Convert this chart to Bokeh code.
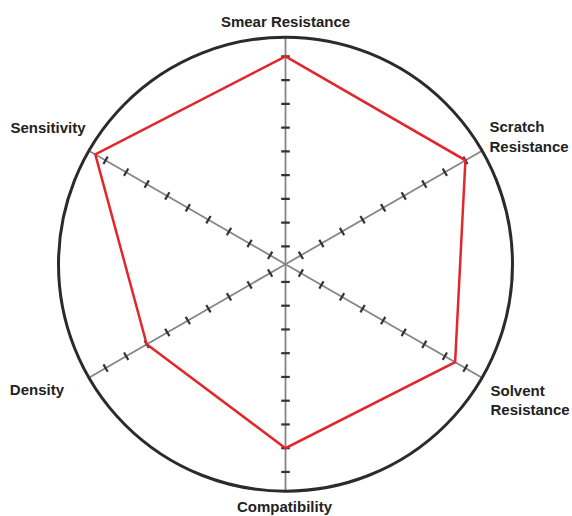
import math
from bokeh.plotting import figure
from bokeh.models import Range1d, ColumnDataSource
from bokeh.core.properties import value
from bokeh.embed import file_html
from bokeh.resources import INLINE

# ---- data -------------------------------------------------------------
categories = ["Smear Resistance", "Scratch Resistance", "Solvent Resistance",
              "Compatibility", "Density", "Sensitivity"]
scores = [9, 9, 8.5, 8, 7, 9.5]
tick_values = [1, 2, 3, 4, 5, 6, 7, 8, 9]

# ---- geometry (styling / layout) ------------------------------------
angles_deg = [90, 30, -30, -90, -150, 150]
STEP = 23.75      # px per unit
ORIGIN = -6.0     # radius of value 0
RIM = 227.0       # outer circle radius

def rad(v):
    return ORIGIN + STEP * v

W, H = 572, 516
CX, CY = 285.0, 263.7

p = figure(width=W, height=H,
           x_range=Range1d(-CX, W - CX), y_range=Range1d(-(H - CY), CY),
           x_axis_type=None, y_axis_type=None,
           output_backend="svg", toolbar_location=None, min_border=0)
p.outline_line_color = None
p.background_fill_color = "white"
p.border_fill_color = "white"

angles = [math.radians(a) for a in angles_deg]

# spokes
p.segment(x0=[0] * 6, y0=[0] * 6,
          x1=[RIM * math.cos(a) for a in angles],
          y1=[RIM * math.sin(a) for a in angles],
          line_color="#858585", line_width=1.8)

# tick marks
tx0, ty0, tx1, ty1 = [], [], [], []
HALF = 4.3
for a in angles:
    ca, sa = math.cos(a), math.sin(a)
    for v in tick_values:
        r = rad(v)
        mx, my = r * ca, r * sa
        tx0.append(mx - HALF * sa); ty0.append(my + HALF * ca)
        tx1.append(mx + HALF * sa); ty1.append(my - HALF * ca)
p.segment(x0=tx0, y0=ty0, x1=tx1, y1=ty1, line_color="#333333", line_width=2.2)

# outer circle
p.circle(x=[0], y=[0], radius=RIM, fill_color=None,
         line_color="#2b2b2b", line_width=3)

# data polygon
px = [rad(s) * math.cos(a) for s, a in zip(scores, angles)]
py = [rad(s) * math.sin(a) for s, a in zip(scores, angles)]
p.patch(px, py, fill_color=None, line_color="#e2262b", line_width=2.5,
        line_join="miter")

# labels
label_layout = {
    "Smear Resistance": (0, 243.0, "center", 0),
    "Scratch Resistance": (204, 137.5, "left", 19.3),
    "Solvent Resistance": (205, -125.8, "left", 19.5),
    "Compatibility": (-1, -242.2, "center", 0),
    "Density": (-275.7, -125.5, "left", 0),
    "Sensitivity": (-275, 136.9, "left", 0),
}
lx, ly, lt, la = [], [], [], []
for name in categories:
    x, y, align, lh = label_layout[name]
    words = name.split(" ") if lh else [name]
    for i, w in enumerate(words):
        lx.append(x); ly.append(y - i * lh); lt.append(w); la.append(align)
src = ColumnDataSource(dict(x=lx, y=ly, t=lt, a=la))
p.text(x="x", y="y", text="t", text_align="a", source=src,
       text_font=value("Liberation Sans"), text_font_style="bold",
       text_font_size="15px", text_color="#222222",
       text_baseline="alphabetic")

open("out.html", "w").write(file_html(p, INLINE))
